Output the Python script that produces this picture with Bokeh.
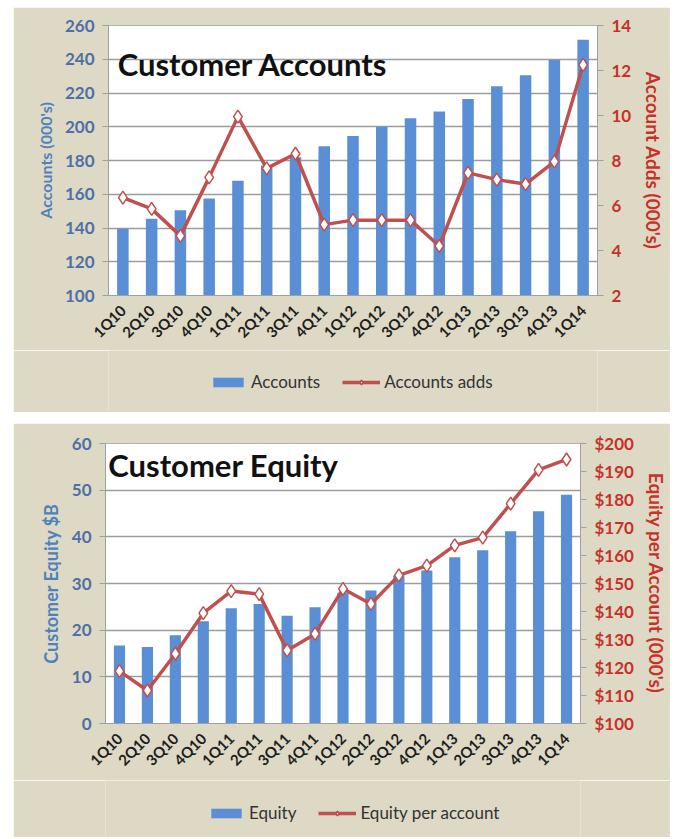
import math
from bokeh.plotting import figure
from bokeh.models import (FactorRange, Range1d, LinearAxis, Legend, LegendItem,
                          Label, FixedTicker, NumeralTickFormatter)
from bokeh.layouts import column
from bokeh.embed import file_html
from bokeh.resources import INLINE

quarters = ["1Q10", "2Q10", "3Q10", "4Q10", "1Q11", "2Q11", "3Q11", "4Q11",
            "1Q12", "2Q12", "3Q12", "4Q12", "1Q13", "2Q13", "3Q13", "4Q13", "1Q14"]
accounts = [139.5, 145.5, 150.5, 157.5, 168, 177, 182, 188.5,
            194.5, 200, 205, 209, 216.5, 224, 230.5, 239.5, 251.5]
account_adds = [6.35, 5.85, 4.65, 7.25, 9.95, 7.65, 8.3, 5.15,
                5.35, 5.35, 5.35, 4.2, 7.45, 7.15, 6.95, 7.95, 12.25]
equity = [16.7, 16.4, 18.9, 21.9, 24.7, 25.6, 23.1, 24.9,
          28.0, 28.5, 31.7, 32.8, 35.6, 37.1, 41.2, 45.5, 49.0]
equity_per_account = [118.7, 111.8, 124.9, 139.4, 147.3, 146.2, 126.1, 132.0,
                      148.1, 142.7, 152.9, 156.4, 163.6, 166.4, 178.5, 190.6, 194.3]

acc_ticks = [100, 120, 140, 160, 180, 200, 220, 240, 260]
adds_ticks = [2, 4, 6, 8, 10, 12, 14]
eq_ticks = [0, 10, 20, 30, 40, 50, 60]
epa_ticks = [100, 110, 120, 130, 140, 150, 160, 170, 180, 190, 200]

FONT = "Lato"
BG = "#DDD9C4"
BAR = "#5A8FD6"
RED = "#C0504D"
BLUE_TXT = "#4F6FA6"
BLUE_LBL = "#4F81BD"
RED_TXT = "#C8312A"
GRID = "#9C9C9C"
W = 657


def style_common(p, label_size):
    p.background_fill_color = "white"
    p.border_fill_color = BG
    p.outline_line_color = "#B0B0B0"
    p.xgrid.grid_line_color = None
    p.ygrid.grid_line_color = GRID
    p.ygrid.grid_line_width = 1.5
    xa = p.xaxis[0]
    xa.major_label_orientation = math.pi / 4
    xa.major_label_text_font = FONT
    xa.major_label_text_font_style = "bold"
    xa.major_label_text_font_size = "15px"
    xa.major_label_text_color = "#1E1E1E"
    xa.axis_line_color = "#A0A0A0"
    xa.major_tick_line_color = None
    xa.major_label_standoff = 6
    ya = p.yaxis[0]
    ya.axis_line_color = "#A0A0A0"
    ya.major_tick_line_color = "#A0A0A0"
    ya.major_tick_out = 6
    ya.major_tick_in = 0
    ya.minor_tick_line_color = None
    ya.major_label_text_font = FONT
    ya.major_label_text_font_style = "bold"
    ya.major_label_text_font_size = "17px"
    ya.major_label_text_color = BLUE_TXT
    ya.major_label_standoff = 8
    ya.axis_label_text_font = FONT
    ya.axis_label_text_font_style = "bold"
    ya.axis_label_text_font_size = label_size
    ya.axis_label_text_color = BLUE_LBL
    ya.axis_label_standoff = 7


def style_right(ax, label_size):
    ax.axis_line_color = "#A0A0A0"
    ax.major_tick_line_color = "#A0A0A0"
    ax.major_tick_out = 6
    ax.major_tick_in = 0
    ax.minor_tick_line_color = None
    ax.major_label_text_font = FONT
    ax.major_label_text_font_style = "bold"
    ax.major_label_text_font_size = "17px"
    ax.major_label_text_color = RED_TXT
    ax.major_label_standoff = 8
    ax.axis_label_text_font = FONT
    ax.axis_label_text_font_style = "bold"
    ax.axis_label_text_font_size = label_size
    ax.axis_label_text_color = RED_TXT
    ax.axis_label_standoff = 8


def legend_strip(height, bar_vals, line_vals, labels, loc):
    # small strip below a chart that only carries the legend
    f = figure(width=W, height=height, x_range=FactorRange(*quarters),
               y_range=Range1d(0, 1), output_backend="svg",
               toolbar_location=None, x_axis_type=None, y_axis_type=None,
               min_border=0)
    f.background_fill_color = BG
    f.border_fill_color = BG
    f.outline_line_color = None
    f.grid.grid_line_color = None
    rb = f.vbar(x=quarters, top=bar_vals, width=0.4, fill_color=BAR,
                line_color=None, visible=False)
    rl = f.line(x=quarters, y=line_vals, line_color=RED, line_width=3.5,
                visible=False)
    rp = f.scatter(x=quarters, y=line_vals, marker="diamond", size=13,
                   fill_color="white", line_color=RED, line_width=1.5,
                   visible=False)
    lg = Legend(items=[LegendItem(label=labels[0], renderers=[rb]),
                       LegendItem(label=labels[1], renderers=[rl, rp])],
                location=loc, orientation="horizontal")
    lg.background_fill_alpha = 0
    lg.border_line_color = None
    lg.label_text_font = FONT
    lg.label_text_font_size = "17px"
    lg.label_text_color = "#333333"
    lg.glyph_width = 38
    lg.glyph_height = 12
    lg.label_standoff = 4
    lg.spacing = 22
    lg.padding = 0
    lg.margin = 0
    lg.inactive_fill_alpha = 0
    f.add_layout(lg)
    return f


# ---------------- Top chart ----------------
p1 = figure(width=W, height=343, x_range=FactorRange(*quarters),
            y_range=Range1d(100, 260), output_backend="svg",
            toolbar_location=None, min_border_left=95, min_border_right=73,
            min_border_top=18, min_border_bottom=53)
p1.extra_y_ranges = {"adds": Range1d(2, 14)}
style_common(p1, "16px")
p1.yaxis[0].ticker = FixedTicker(ticks=acc_ticks)
p1.yaxis[0].axis_label = "Accounts (000's)"

p1.vbar(x=quarters, top=accounts, bottom=100, width=0.4,
        fill_color=BAR, line_color=None)
p1.line(x=quarters, y=account_adds, y_range_name="adds",
        line_color=RED, line_width=3.5)
p1.scatter(x=quarters, y=account_adds, y_range_name="adds",
           marker="diamond", size=13, fill_color="white",
           line_color=RED, line_width=1.5)
ax_r1 = LinearAxis(y_range_name="adds", axis_label="Account Adds (000's)",
                   ticker=FixedTicker(ticks=adds_ticks))
style_right(ax_r1, "19px")
p1.add_layout(ax_r1, "right")
p1.add_layout(Label(x=0.32, y=237, text="Customer Accounts", text_font=FONT,
                    text_font_size="31px", text_font_style="bold",
                    text_color="#111111", text_baseline="alphabetic"))
leg1 = legend_strip(62, accounts, account_adds, ["Accounts", "Accounts adds"], (101, 20))

# ---------------- Bottom chart ----------------
p2 = figure(width=W, height=357, x_range=FactorRange(*quarters),
            y_range=Range1d(0, 60), output_backend="svg",
            toolbar_location=None, min_border_left=92, min_border_right=85,
            min_border_top=20, min_border_bottom=57)
p2.extra_y_ranges = {"epa": Range1d(100, 200)}
style_common(p2, "18px")
p2.yaxis[0].ticker = FixedTicker(ticks=eq_ticks)
p2.yaxis[0].axis_label = "Customer Equity $B"

p2.vbar(x=quarters, top=equity, width=0.4, fill_color=BAR, line_color=None)
p2.line(x=quarters, y=equity_per_account, y_range_name="epa",
        line_color=RED, line_width=3.5)
p2.scatter(x=quarters, y=equity_per_account, y_range_name="epa",
           marker="diamond", size=13, fill_color="white",
           line_color=RED, line_width=1.5)
ax_r2 = LinearAxis(y_range_name="epa", axis_label="Equity per Account (000's)",
                   ticker=FixedTicker(ticks=epa_ticks),
                   formatter=NumeralTickFormatter(format="$0"))
style_right(ax_r2, "19px")
p2.add_layout(ax_r2, "right")
p2.add_layout(Label(x=0.1, y=55.3, text="Customer Equity", text_font=FONT,
                    text_font_size="31px", text_font_style="bold",
                    text_color="#111111", text_baseline="alphabetic"))
leg2 = legend_strip(57, equity, equity_per_account, ["Equity", "Equity per account"], (102, 14))

layout = column(column(p1, leg1, spacing=0), column(p2, leg2, spacing=0),
                spacing=11, margin=(7, 0, 0, 13))
open("out.html", "w").write(file_html(layout, INLINE))
